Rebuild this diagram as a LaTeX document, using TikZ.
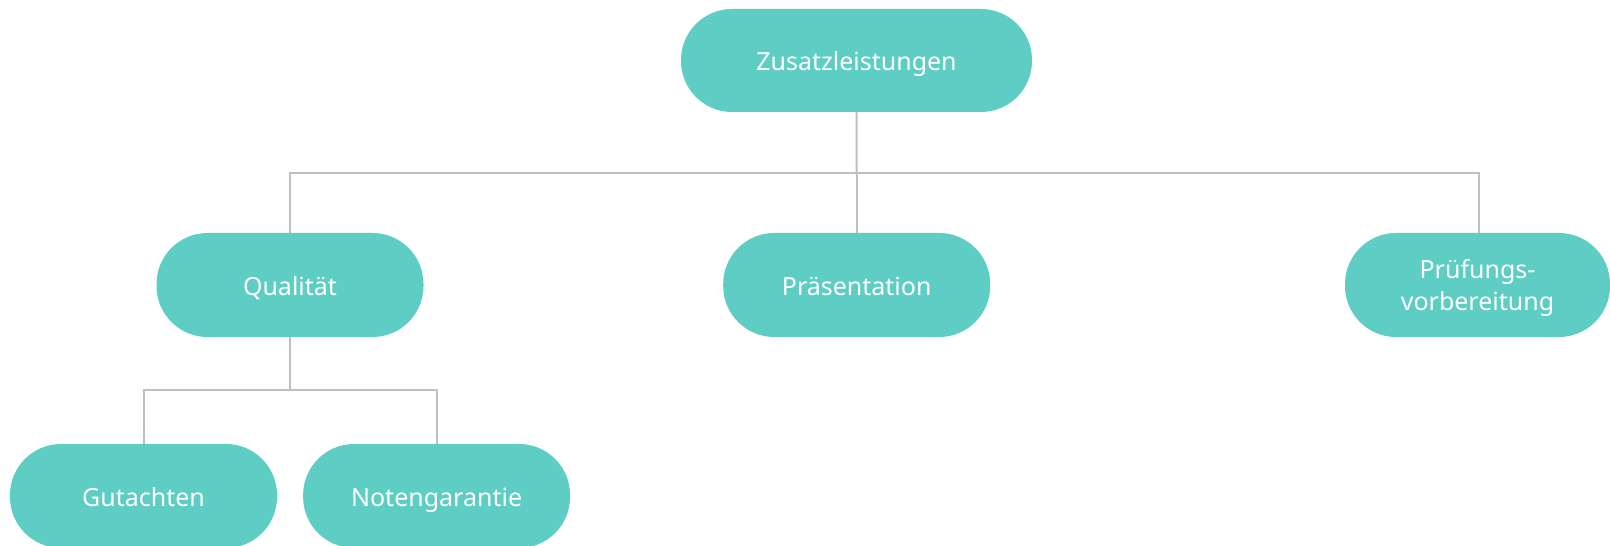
\documentclass[tikz,border=0pt]{standalone}
\usepackage{fontspec}
\setmainfont{Noto Sans}
\definecolor{pill}{RGB}{94,206,196}
\definecolor{conn}{RGB}{192,192,192}
\tikzset{
  pillbox/.style={shape=rectangle, fill=pill, draw=none, rounded corners=51pt,
    inner sep=0pt, minimum height=104pt, text=white, align=center,
    font=\fontsize{25}{31.7}\selectfont, text height=20.4pt, text depth=0pt},
  wide/.style={minimum width=351pt, minimum height=103pt},
  norm/.style={minimum width=267pt},
  twoline/.style={text height=51.4pt, text depth=0pt},
  link/.style={draw=conn, line width=2pt}
}
\begin{document}
\begin{tikzpicture}[x=1pt,y=1pt]
\useasboundingbox (0,0) rectangle (1610,546);
\clip (0,0) rectangle (1610,546);
\node[pillbox,wide] (Z) at (856.5,485.5) {Zusatzleistungen};
\node[pillbox,norm] (Q) at (290,261) {Qualität};
\node[pillbox,norm] (P) at (856.7,261) {Präsentation};
\node[pillbox,norm,minimum width=265pt,twoline] (R) at (1477.5,261) {Prüfungs-\\vorbereitung};
\node[pillbox,norm] (G) at (143.5,50) {Gutachten};
\node[pillbox,norm] (N) at (436.6,50) {Notengarantie};
\coordinate (j) at (856.7,373);
\coordinate (k) at (290,156);
\draw[link] (Z.south) -- (j);
\draw[link] (Q.north) |- (j) -| ([xshift=1.5pt]R.north);
\draw[link] (j) -- (P.north);
\draw[link] (Q.south) -- (k);
\draw[link] (G.north) |- (k) -| (N.north);
\end{tikzpicture}
\end{document}
